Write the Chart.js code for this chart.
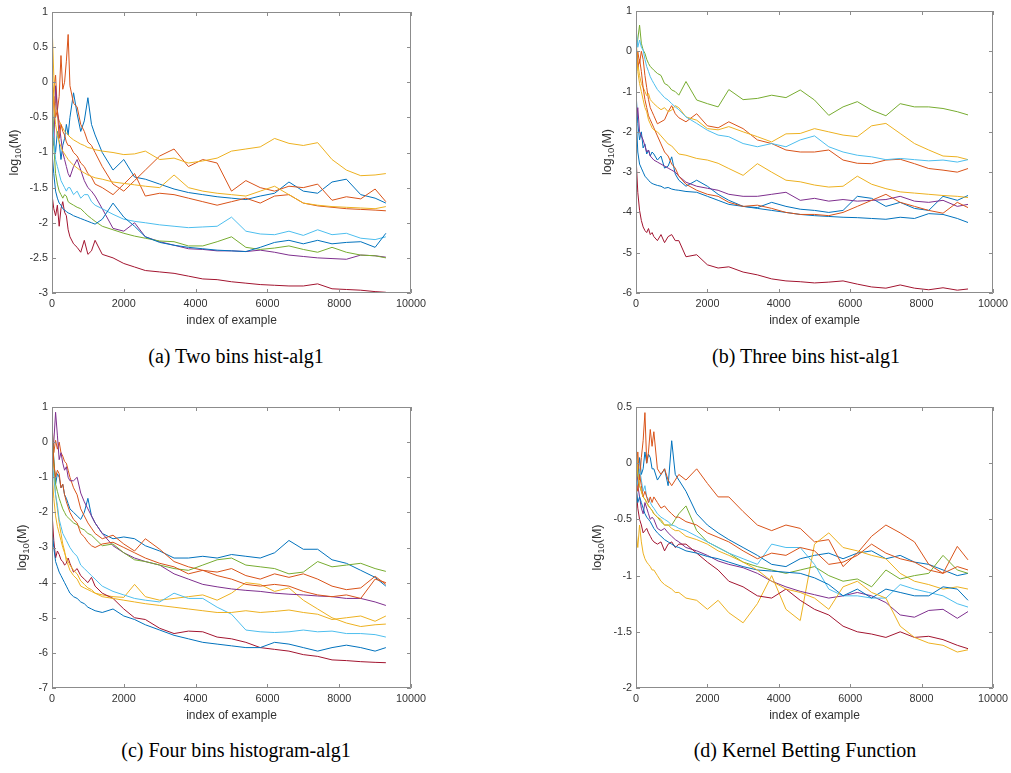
<!DOCTYPE html>
<html>
<head>
<meta charset="utf-8">
<script src="https://cdn.jsdelivr.net/npm/chart.js@4.4.1/dist/chart.umd.min.js"></script>
<style>
  body { margin: 0; background: #fff; width: 1011px; height: 773px; position: relative; overflow: hidden; }
  canvas { position: absolute; }
  .cap { position: absolute; font-family: "Liberation Serif", "Times New Roman", serif; font-size: 20px;
         line-height: 24px; color: #000; white-space: nowrap; transform: translateX(-50%); }
</style>
</head>
<body>
<canvas id="pa" width="430" height="330" style="left:0;top:0"></canvas>
<canvas id="pb" width="426" height="330" style="left:585px;top:0"></canvas>
<canvas id="pc" width="430" height="330" style="left:0;top:395px"></canvas>
<canvas id="pd" width="426" height="330" style="left:585px;top:395px"></canvas>
<div class="cap" style="left:236px;top:344px">(a) Two bins hist-alg1</div>
<div class="cap" style="left:806px;top:344px">(b) Three bins hist-alg1</div>
<div class="cap" style="left:236px;top:738px">(c) Four bins histogram-alg1</div>
<div class="cap" style="left:805px;top:738px">(d) Kernel Betting Function</div>
<script>
// sample positions (index of example) shared by every line
const xIndex = [0, 50, 100, 150, 200, 250, 300, 350, 400, 450,
  500, 600, 700, 800, 900, 1000, 1100, 1200, 1400, 1700,
  2000, 2300, 2600, 3000, 3400, 3800, 4200, 4600, 5000, 5400,
  5800, 6200, 6600, 7000, 7400, 7800, 8200, 8600, 9000, 9300];

// (a) Two bins hist-alg1
const aBlue1 = [-0.3, -0.8, -1.0, -0.7, -0.85, -1.1, -0.9, -0.8, -0.6, -0.75,
  -0.5, -0.15, -0.45, -0.7, -0.55, -0.22, -0.6, -0.75, -1.0, -1.25,
  -1.1, -1.35, -1.38, -1.45, -1.52, -1.57, -1.6, -1.63, -1.65, -1.67,
  -1.62, -1.58, -1.42, -1.55, -1.58, -1.42, -1.38, -1.6, -1.65, -1.72];
const aOrange1 = [-0.3, -0.1, 0.1, -0.4, -0.2, 0.38, -0.1, 0.0, 0.3, 0.68,
  -0.05, -0.3, -0.35, -0.6, -0.7, -0.85, -0.9, -1.0, -1.2, -1.45,
  -1.55, -1.4, -1.25, -1.05, -0.95, -1.2, -1.1, -1.15, -1.55, -1.4,
  -1.5, -1.55, -1.48, -1.5, -1.45, -1.68, -1.63, -1.66, -1.52, -1.7];
const aYellow1 = [0.85, 0.1, -0.3, -0.45, -0.55, -0.6, -0.65, -0.7, -0.72, -0.75,
  -0.78, -0.82, -0.85, -0.88, -0.9, -0.93, -0.94, -0.96, -0.98, -1.0,
  -1.03, -1.02, -0.98, -1.1, -1.08, -1.15, -1.12, -1.08, -0.98, -0.95,
  -0.92, -0.8, -0.87, -0.9, -0.86, -1.1, -1.25, -1.33, -1.32, -1.3];
const aPurple = [-0.5, -0.9, -0.05, -0.4, -0.6, -0.8, -1.0, -1.1, -1.2, -1.3,
  -1.35, -1.2, -1.1, -1.25, -1.4, -1.5, -1.55, -1.62, -1.8, -2.08,
  -2.12, -2.0, -2.2, -2.27, -2.32, -2.37, -2.38, -2.4, -2.4, -2.41,
  -2.39, -2.42, -2.46, -2.48, -2.5, -2.51, -2.52, -2.46, -2.47, -2.49];
const aGreen = [0.05, -0.9, -1.3, -1.45, -1.55, -1.6, -1.65, -1.6, -1.62, -1.7,
  -1.72, -1.75, -1.78, -1.8, -1.85, -1.9, -1.94, -1.98, -2.05, -2.1,
  -2.15, -2.19, -2.22, -2.26, -2.27, -2.33, -2.33, -2.27, -2.2, -2.35,
  -2.38, -2.36, -2.33, -2.38, -2.42, -2.35, -2.42, -2.46, -2.47, -2.5];
const aLightBlue = [-0.5, -0.8, -1.1, -1.2, -1.3, -1.4, -1.45, -1.5, -1.55, -1.5,
  -1.5, -1.6, -1.55, -1.65, -1.6, -1.6, -1.7, -1.75, -1.8, -1.88,
  -1.95, -1.98, -2.0, -2.03, -2.05, -2.07, -2.06, -2.05, -1.92, -2.12,
  -2.16, -2.17, -2.12, -2.18, -2.1, -2.17, -2.15, -2.22, -2.24, -2.2];
const aRed = [-1.6, -1.8, -1.9, -1.75, -2.05, -1.8, -1.7, -1.85, -1.9, -2.1,
  -2.2, -2.3, -2.35, -2.42, -2.25, -2.45, -2.4, -2.25, -2.45, -2.5,
  -2.58, -2.63, -2.68, -2.7, -2.72, -2.76, -2.8, -2.81, -2.84, -2.86,
  -2.88, -2.89, -2.9, -2.9, -2.87, -2.94, -2.95, -2.96, -2.98, -2.99];
const aBlue2 = [-1.0, -1.3, -1.55, -1.65, -1.72, -1.75, -1.8, -1.82, -1.84, -1.86,
  -1.87, -1.9, -1.92, -1.94, -1.96, -1.98, -2.0, -2.02, -1.95, -1.72,
  -1.92, -2.05, -2.2, -2.28, -2.32, -2.35, -2.37, -2.39, -2.4, -2.41,
  -2.35, -2.28, -2.25, -2.3, -2.25, -2.3, -2.28, -2.27, -2.35, -2.15];
const aOrange2 = [-0.6, -0.2, -0.5, -0.4, -0.8, -0.6, -0.7, -0.75, -0.85, -0.9,
  -0.9, -1.0, -1.05, -1.15, -1.2, -1.3, -1.35, -1.45, -1.5, -1.6,
  -1.45, -1.3, -1.62, -1.58, -1.6, -1.65, -1.7, -1.75, -1.7, -1.65,
  -1.72, -1.62, -1.6, -1.72, -1.76, -1.78, -1.8, -1.81, -1.82, -1.83];
const aYellow2 = [0.3, -0.3, -0.6, -0.75, -0.85, -0.92, -0.98, -1.02, -1.06, -1.1,
  -1.13, -1.18, -1.22, -1.26, -1.29, -1.32, -1.34, -1.36, -1.38, -1.42,
  -1.44, -1.46, -1.48, -1.5, -1.32, -1.5, -1.55, -1.58, -1.6, -1.62,
  -1.55, -1.48, -1.6, -1.72, -1.75, -1.77, -1.78, -1.79, -1.8, -1.77];

// (b) Three bins hist-alg1
const bBlue1 = [-1.0, -1.8, -2.2, -2.0, -2.4, -2.3, -2.55, -2.45, -2.6, -2.5,
  -2.55, -2.7, -2.6, -2.9, -2.85, -2.62, -3.05, -3.2, -3.35, -3.2,
  -3.35, -3.55, -3.7, -3.85, -3.88, -3.75, -3.85, -3.92, -3.95, -4.0,
  -3.95, -3.6, -3.65, -3.85, -3.75, -3.9, -3.95, -3.6, -3.7, -3.58];
const bOrange1 = [-0.5, 0.0, -0.3, 0.0, -0.2, -0.6, -0.9, -1.2, -1.4, -1.5,
  -1.6, -1.8, -1.75, -1.7, -1.5, -1.35, -1.55, -1.65, -1.75, -1.55,
  -1.85, -1.9, -1.75, -1.92, -2.2, -2.29, -2.45, -2.5, -2.5, -2.45,
  -2.7, -2.78, -2.79, -2.7, -2.68, -2.79, -2.91, -2.95, -3.0, -2.91];
const bYellow1 = [0.3, -0.3, -0.6, -0.8, -0.9, -1.0, -1.1, -1.05, -1.2, -1.25,
  -1.3, -1.38, -1.45, -1.4, -1.5, -1.46, -1.35, -1.4, -1.63, -1.71,
  -1.92, -1.95, -1.87, -2.0, -2.12, -2.25, -2.05, -2.04, -1.92, -2.0,
  -2.08, -2.12, -1.85, -1.79, -2.04, -2.29, -2.45, -2.6, -2.62, -2.69];
const bPurple = [-1.8, -1.4, -2.0, -2.1, -2.2, -2.35, -2.5, -2.45, -2.6, -2.65,
  -2.7, -2.75, -2.8, -2.85, -2.9, -2.95, -3.0, -3.1, -3.25, -3.35,
  -3.4, -3.45, -3.55, -3.6, -3.6, -3.55, -3.5, -3.7, -3.65, -3.72,
  -3.68, -3.72, -3.7, -3.68, -3.6, -3.72, -3.75, -3.7, -3.85, -3.8];
const bGreen = [0.0, 0.3, 0.65, 0.2, 0.03, -0.05, -0.2, -0.3, -0.38, -0.42,
  -0.47, -0.55, -0.6, -0.8, -0.85, -0.96, -1.0, -1.09, -0.75, -1.21,
  -1.3, -1.38, -0.95, -1.2, -1.17, -1.09, -1.15, -0.96, -1.21, -1.59,
  -1.38, -1.25, -1.46, -1.6, -1.3, -1.38, -1.38, -1.42, -1.5, -1.58];
const bLightBlue = [0.6, 0.1, 0.28, 0.1, 0.03, -0.2, -0.38, -0.5, -0.63, -0.72,
  -0.8, -0.95, -1.05, -1.15, -1.21, -1.3, -1.38, -1.45, -1.63, -1.79,
  -1.96, -2.08, -2.12, -2.29, -2.37, -2.29, -2.37, -2.2, -2.1, -2.37,
  -2.5, -2.58, -2.62, -2.69, -2.66, -2.69, -2.72, -2.7, -2.75, -2.69];
const bRed = [-2.6, -3.5, -3.95, -4.2, -4.36, -4.45, -4.5, -4.4, -4.55, -4.5,
  -4.6, -4.7, -4.55, -4.75, -4.6, -4.55, -4.7, -4.7, -5.1, -5.05,
  -5.3, -5.38, -5.35, -5.48, -5.55, -5.65, -5.7, -5.72, -5.75, -5.73,
  -5.7, -5.78, -5.85, -5.88, -5.8, -5.88, -5.92, -5.87, -5.93, -5.9];
const bBlue2 = [-1.5, -2.5, -2.8, -2.9, -3.0, -3.1, -3.15, -3.2, -3.25, -3.28,
  -3.3, -3.33, -3.35, -3.4, -3.38, -3.42, -3.44, -3.45, -3.48, -3.5,
  -3.6, -3.7, -3.8, -3.85, -3.9, -3.95, -4.0, -4.05, -4.08, -4.1,
  -4.12, -4.13, -4.15, -4.17, -4.12, -4.15, -4.03, -4.05, -4.15, -4.25];
const bOrange2 = [0.2, -0.4, -0.2, -0.5, -0.9, -1.2, -1.4, -1.6, -1.7, -1.8,
  -1.9, -2.1, -2.3, -2.5, -2.6, -2.8, -2.9, -3.1, -3.3, -3.45,
  -3.55, -3.6, -3.75, -3.85, -3.82, -3.9, -4.0, -4.05, -4.05, -4.08,
  -4.0, -3.85, -3.7, -3.55, -3.75, -3.85, -3.95, -4.02, -3.75, -3.88];
const bYellow2 = [0.2, -0.5, -0.8, -1.0, -1.2, -1.4, -1.5, -1.7, -1.8, -1.9,
  -1.95, -2.0, -2.1, -2.2, -2.3, -2.35, -2.45, -2.55, -2.58, -2.66,
  -2.7, -2.78, -2.91, -3.08, -2.79, -3.0, -3.2, -3.24, -3.32, -3.37,
  -3.35, -3.1, -3.3, -3.41, -3.49, -3.52, -3.55, -3.58, -3.6, -3.63];

// (c) Four bins histogram-alg1
const cBlue1 = [0.2, -0.5, -1.2, -0.9, -1.0, -1.3, -1.2, -1.5, -1.6, -1.75,
  -1.9, -2.0, -2.1, -2.2, -2.0, -1.6, -2.1, -2.3, -2.6, -2.75,
  -2.7, -2.75, -2.95, -3.1, -3.3, -3.3, -3.25, -3.3, -3.2, -3.25,
  -3.3, -3.15, -2.8, -3.05, -3.05, -3.35, -3.45, -3.65, -3.85, -4.1];
const cOrange1 = [0.5, -0.3, 0.05, -0.2, 0.0, -0.3, -0.4, -0.55, -0.6, -0.8,
  -1.0, -1.3, -1.5, -1.9, -2.1, -2.3, -2.45, -2.6, -2.75, -2.65,
  -2.9, -3.1, -2.75, -3.05, -3.4, -3.55, -3.65, -3.7, -3.6, -3.8,
  -3.9, -3.75, -3.85, -3.75, -3.9, -4.1, -4.2, -4.15, -3.82, -4.05];
const cYellow1 = [0.0, -0.8, -1.5, -1.9, -2.3, -2.6, -2.9, -3.1, -3.4, -3.5,
  -3.65, -3.8, -3.9, -4.1, -4.15, -4.2, -4.25, -4.3, -4.35, -4.4,
  -4.42, -4.05, -4.4, -4.5, -4.45, -4.4, -4.35, -4.5, -4.3, -4.0,
  -4.05, -4.25, -4.15, -4.5, -4.75, -5.0, -5.15, -5.25, -5.2, -5.18];
const cPurple = [-0.5, 0.0, 0.85, 0.2, -0.5, -0.3, -0.6, -0.8, -0.7, -1.0,
  -1.1, -1.1, -1.0, -1.45, -1.7, -1.9, -2.1, -2.3, -2.6, -2.95,
  -3.15, -3.3, -3.4, -3.5, -3.75, -3.9, -4.05, -4.12, -4.18, -4.22,
  -4.25, -4.3, -4.33, -4.35, -4.38, -4.4, -4.45, -4.45, -4.55, -4.65];
const cGreen = [0.5, -0.5, -1.2, -1.4, -1.6, -1.75, -1.9, -2.0, -2.1, -2.15,
  -2.2, -2.3, -2.35, -2.45, -2.5, -2.6, -2.65, -2.75, -2.95, -2.9,
  -3.15, -3.35, -3.4, -3.5, -3.6, -3.65, -3.5, -3.35, -3.3, -3.5,
  -3.55, -3.6, -3.75, -3.7, -3.4, -3.55, -3.5, -3.45, -3.6, -3.68];
const cLightBlue = [-0.5, -1.0, -1.5, -1.8, -2.2, -2.4, -2.6, -2.7, -2.8, -2.9,
  -3.0, -3.15, -3.25, -3.5, -3.6, -3.7, -3.8, -3.9, -4.1, -4.25,
  -4.35, -4.45, -4.5, -4.55, -4.3, -4.45, -4.45, -4.7, -4.9, -5.35,
  -5.4, -5.42, -5.4, -5.35, -5.4, -5.38, -5.45, -5.45, -5.48, -5.55];
const cRed = [-2.0, -2.8, -3.3, -3.1, -3.2, -3.35, -3.4, -3.5, -3.45, -3.3,
  -3.45, -3.7, -3.6, -3.8, -3.9, -4.0, -3.85, -4.1, -4.3, -4.45,
  -4.75, -5.0, -5.05, -5.3, -5.45, -5.38, -5.4, -5.55, -5.6, -5.7,
  -5.85, -5.9, -5.95, -6.05, -6.1, -6.2, -6.22, -6.25, -6.27, -6.28];
const cBlue2 = [-2.5, -3.0, -3.4, -3.55, -3.7, -3.8, -3.9, -4.0, -4.1, -4.2,
  -4.3, -4.4, -4.45, -4.55, -4.6, -4.7, -4.75, -4.8, -4.85, -4.75,
  -4.95, -5.05, -5.2, -5.35, -5.5, -5.6, -5.7, -5.75, -5.8, -5.85,
  -5.85, -5.7, -5.75, -5.85, -5.95, -5.85, -5.78, -5.85, -5.95, -5.85];
const cOrange2 = [0.3, -0.6, -1.0, -0.8, -0.9, -1.3, -1.2, -1.5, -1.7, -1.85,
  -2.0, -2.2, -2.3, -2.6, -2.7, -2.85, -2.95, -3.0, -2.9, -2.85,
  -3.0, -3.15, -3.3, -3.45, -3.55, -3.75, -3.65, -3.8, -3.9, -4.05,
  -4.1, -4.05, -4.1, -4.25, -4.35, -4.4, -4.35, -4.45, -3.9, -4.0];
const cYellow2 = [-0.8, -1.6, -2.1, -2.4, -2.6, -2.8, -3.0, -3.15, -3.3, -3.4,
  -3.5, -3.65, -3.75, -3.95, -4.05, -4.15, -4.2, -4.3, -4.4, -4.45,
  -4.5, -4.55, -4.6, -4.65, -4.7, -4.75, -4.8, -4.85, -4.85, -4.8,
  -4.85, -4.82, -4.78, -4.85, -4.9, -5.05, -5.0, -4.95, -5.1, -4.95];

// (d) Kernel Betting Function
const dBlue1 = [0.0, -0.15, 0.05, -0.1, -0.05, 0.1, 0.0, 0.08, 0.05, -0.05,
  -0.05, -0.15, -0.1, -0.05, -0.2, 0.2, -0.1, -0.15, -0.25, -0.45,
  -0.55, -0.62, -0.68, -0.75, -0.82, -0.9, -0.92, -0.85, -0.82, -0.8,
  -0.85, -0.8, -0.78, -0.85, -0.82, -0.88, -0.9, -0.95, -1.0, -0.98];
const dOrange1 = [-0.1, 0.1, -0.15, 0.05, 0.2, 0.45, 0.0, 0.1, 0.3, 0.15,
  0.28, -0.05, -0.1, -0.05, -0.15, -0.2, -0.15, -0.1, -0.15, -0.05,
  -0.18, -0.3, -0.3, -0.43, -0.55, -0.6, -0.55, -0.58, -0.7, -0.68,
  -0.92, -0.8, -0.65, -0.55, -0.62, -0.7, -0.9, -0.98, -0.74, -0.86];
const dYellow1 = [-0.6, -0.75, -0.55, -0.7, -0.8, -0.85, -0.88, -0.9, -0.92, -0.95,
  -0.95, -1.0, -1.05, -1.08, -1.1, -1.12, -1.15, -1.15, -1.2, -1.22,
  -1.3, -1.22, -1.33, -1.42, -1.25, -1.0, -1.3, -1.4, -0.72, -0.62,
  -0.75, -0.78, -0.82, -0.85, -0.98, -1.05, -1.08, -1.12, -1.1, -1.12];
const dPurple = [0.2, -0.2, -0.3, -0.4, -0.45, -0.35, -0.4, -0.45, -0.5, -0.48,
  -0.5, -0.58, -0.6, -0.58, -0.62, -0.65, -0.68, -0.7, -0.75, -0.78,
  -0.82, -0.87, -0.9, -0.93, -0.98, -1.05, -1.1, -1.14, -1.17, -1.2,
  -1.18, -1.15, -1.18, -1.24, -1.35, -1.37, -1.31, -1.3, -1.38, -1.32];
const dGreen = [0.1, -0.1, -0.2, -0.25, -0.3, -0.32, -0.35, -0.38, -0.4, -0.42,
  -0.45, -0.48, -0.52, -0.55, -0.55, -0.55, -0.5, -0.45, -0.38, -0.6,
  -0.7, -0.75, -0.8, -0.88, -0.92, -0.95, -0.98, -0.95, -0.92, -1.0,
  -1.05, -1.03, -1.1, -0.95, -1.03, -1.0, -0.98, -0.82, -0.95, -0.98];
const dLightBlue = [-0.1, -0.2, -0.05, -0.15, -0.25, -0.2, -0.3, -0.32, -0.35, -0.38,
  -0.4, -0.45, -0.48, -0.5, -0.52, -0.55, -0.56, -0.58, -0.6, -0.65,
  -0.7, -0.75, -0.8, -0.85, -0.9, -0.72, -0.75, -0.75, -0.9, -1.12,
  -1.18, -1.18, -1.2, -1.2, -1.08, -1.12, -1.15, -1.18, -1.25, -1.28];
const dRed = [-0.2, -0.4, -0.5, -0.55, -0.62, -0.6, -0.58, -0.62, -0.65, -0.68,
  -0.7, -0.72, -0.7, -0.78, -0.72, -0.7, -0.75, -0.72, -0.72, -0.8,
  -0.88, -0.95, -1.05, -1.1, -1.18, -1.2, -1.12, -1.22, -1.3, -1.35,
  -1.45, -1.5, -1.52, -1.55, -1.5, -1.55, -1.54, -1.57, -1.62, -1.65];
const dBlue2 = [-0.2, -0.35, -0.3, -0.35, -0.4, -0.45, -0.48, -0.5, -0.52, -0.55,
  -0.58, -0.62, -0.65, -0.68, -0.7, -0.72, -0.74, -0.75, -0.78, -0.8,
  -0.83, -0.85, -0.88, -0.92, -0.95, -0.96, -0.97, -0.98, -1.02, -1.08,
  -1.18, -1.12, -1.2, -1.12, -1.15, -1.18, -1.18, -1.1, -1.12, -1.22];
const dOrange2 = [-0.15, -0.25, -0.1, -0.2, -0.3, -0.25, -0.3, -0.35, -0.3, -0.35,
  -0.3, -0.35, -0.4, -0.38, -0.42, -0.45, -0.48, -0.48, -0.52, -0.55,
  -0.62, -0.66, -0.7, -0.78, -0.85, -0.8, -0.82, -0.75, -0.78, -0.9,
  -0.88, -0.82, -0.72, -0.8, -0.85, -0.88, -0.95, -0.98, -0.92, -0.95];
const dYellow2 = [0.2, -0.1, -0.2, -0.25, -0.3, -0.32, -0.35, -0.38, -0.4, -0.42,
  -0.45, -0.48, -0.5, -0.55, -0.55, -0.58, -0.6, -0.6, -0.65, -0.68,
  -0.72, -0.78, -0.82, -0.88, -0.95, -1.05, -1.12, -1.15, -1.2, -1.3,
  -1.1, -1.05, -1.15, -1.2, -1.45, -1.55, -1.6, -1.62, -1.68, -1.66];

// axis ticks
const xTicks = [0, 2000, 4000, 6000, 8000, 10000];
const yTicksA = [-3, -2.5, -2, -1.5, -1, -0.5, 0, 0.5, 1];
const yTicksB = [-6, -5, -4, -3, -2, -1, 0, 1];
const yTicksC = [-7, -6, -5, -4, -3, -2, -1, 0, 1];
const yTicksD = [-2, -1.5, -1, -0.5, 0, 0.5];

// MATLAB default line colours, in plotting order
const lineColors = ['#0072BD', '#D95319', '#EDB120', '#7E2F8E', '#77AC30',
  '#4DBEEE', '#A2142F', '#0072BD', '#D95319', '#EDB120'];

const SANS = '"Liberation Sans", Arial, sans-serif';
Chart.defaults.font.family = SANS;

// box, inward ticks and the y label with subscript
const axisFrame = {
  id: 'axisFrame',
  afterDraw(chart, args, opts) {
    const { ctx, chartArea: a, scales: { x, y } } = chart;
    ctx.save();
    ctx.strokeStyle = '#8c8c8c';
    ctx.lineWidth = 1;
    ctx.beginPath();
    ctx.rect(a.left + 0.5, a.top + 0.5, a.width - 1, a.height - 1);
    x.ticks.forEach(t => {
      const px = Math.round(x.getPixelForValue(t.value)) + 0.5;
      ctx.moveTo(px, a.bottom); ctx.lineTo(px, a.bottom - 4);
      ctx.moveTo(px, a.top); ctx.lineTo(px, a.top + 4);
    });
    y.ticks.forEach(t => {
      const py = Math.round(y.getPixelForValue(t.value)) + 0.5;
      ctx.moveTo(a.left, py); ctx.lineTo(a.left + 4, py);
      ctx.moveTo(a.right, py); ctx.lineTo(a.right - 4, py);
    });
    ctx.stroke();

    ctx.translate(a.left - opts.labelOffset, (a.top + a.bottom) / 2);
    ctx.rotate(-Math.PI / 2);
    ctx.fillStyle = '#333';
    ctx.textBaseline = 'middle';
    const big = '12.5px ' + SANS, small = '9.5px ' + SANS;
    ctx.font = big;
    const w1 = ctx.measureText('log').width, w3 = ctx.measureText('(M)').width;
    ctx.font = small;
    const w2 = ctx.measureText('10').width;
    let x0 = -(w1 + w2 + w3) / 2;
    ctx.font = big; ctx.fillText('log', x0, 0);
    ctx.font = small; ctx.fillText('10', x0 + w1, 3.5);
    ctx.font = big; ctx.fillText('(M)', x0 + w1 + w2, 0);
    ctx.restore();
  }
};

function makePanel(id, series, yTicks, box) {
  const ticksFrom = list => scale => { scale.ticks = list.map(v => ({ value: v })); };
  new Chart(document.getElementById(id), {
    type: 'line',
    data: {
      datasets: series.map((ys, i) => ({
        data: xIndex.map((x, k) => ({ x: x, y: ys[k] })),
        borderColor: lineColors[i],
        borderWidth: 1,
        pointRadius: 0,
        tension: 0,
        fill: false,
        order: series.length - i
      }))
    },
    options: {
      responsive: false,
      animation: false,
      devicePixelRatio: 1,
      layout: { autoPadding: false, padding: { left: 0, top: box.top, right: box.right, bottom: 0 } },
      plugins: { legend: { display: false }, tooltip: { enabled: false }, axisFrame: { labelOffset: box.labelOffset } },
      scales: {
        x: {
          type: 'linear', min: 0, max: 10000,
          afterBuildTicks: ticksFrom(xTicks),
          grid: { display: false, drawTicks: false }, border: { display: false },
          ticks: { color: '#333', font: { size: 10.8 }, padding: 5, maxRotation: 0, autoSkip: false,
                   callback: v => String(v) },
          title: { display: true, text: 'index of example', color: '#333', font: { size: 12 },
                   padding: { top: 0, bottom: 2 } },
          afterFit: s => { s.height = 37; s.paddingLeft = 0; s.paddingRight = 0; }
        },
        y: {
          type: 'linear', min: yTicks[0], max: yTicks[yTicks.length - 1],
          afterBuildTicks: ticksFrom(yTicks),
          grid: { display: false, drawTicks: false }, border: { display: false },
          ticks: { color: '#333', font: { size: 10.8 }, padding: 4, autoSkip: false,
                   callback: v => String(Math.round(v * 100) / 100) },
          afterFit: s => { s.width = box.yWidth; s.paddingTop = 0; s.paddingBottom = 0; }
        }
      }
    },
    plugins: [axisFrame]
  });
}

makePanel('pa', [aBlue1, aOrange1, aYellow1, aPurple, aGreen, aLightBlue, aRed, aBlue2, aOrange2, aYellow2],
  yTicksA, { top: 12, right: 19, yWidth: 52, labelOffset: 37 });
makePanel('pb', [bBlue1, bOrange1, bYellow1, bPurple, bGreen, bLightBlue, bRed, bBlue2, bOrange2, bYellow2],
  yTicksB, { top: 11, right: 18, yWidth: 51, labelOffset: 28 });
makePanel('pc', [cBlue1, cOrange1, cYellow1, cPurple, cGreen, cLightBlue, cRed, cBlue2, cOrange2, cYellow2],
  yTicksC, { top: 12, right: 19, yWidth: 52, labelOffset: 29 });
makePanel('pd', [dBlue1, dOrange1, dYellow1, dPurple, dGreen, dLightBlue, dRed, dBlue2, dOrange2, dYellow2],
  yTicksD, { top: 12, right: 18, yWidth: 51, labelOffset: 38 });
</script>
</body>
</html>
